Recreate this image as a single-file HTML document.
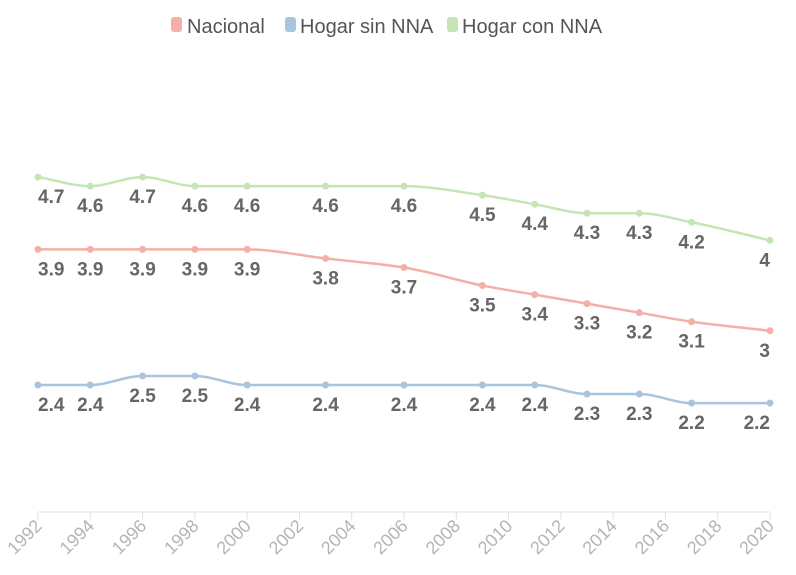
<!DOCTYPE html>
<html><head><meta charset="utf-8"><style>
body{margin:0;background:#fff;}
svg{display:block;font-family:"Liberation Sans",sans-serif;}
</style></head><body>
<svg id="chart" width="796" height="575">
<g id="legend">
 <g><rect x="171" y="17" width="11" height="15" rx="3" fill="#f4b0a8"/><text x="187" y="33" font-size="20" fill="#555">Nacional</text></g>
 <g><rect x="285" y="17" width="11" height="15" rx="3" fill="#a9c4de"/><text x="300" y="33" font-size="20" fill="#555">Hogar sin NNA</text></g>
 <g><rect x="447" y="17" width="11" height="15" rx="3" fill="#c5e5b5"/><text x="462" y="33" font-size="20" fill="#555">Hogar con NNA</text></g>
</g>
<line x1="38" y1="512" x2="770" y2="512" stroke="#e2e2e2"/>
<g id="ticks"></g>
<g id="series"></g>
</svg>
<script>
const years=[1992,1994,1996,1998,2000,2003,2006,2009,2011,2013,2015,2017,2020];
const nacional=[3.9,3.9,3.9,3.9,3.9,3.8,3.7,3.5,3.4,3.3,3.2,3.1,3];
const sinNNA=[2.4,2.4,2.5,2.5,2.4,2.4,2.4,2.4,2.4,2.3,2.3,2.2,2.2];
const conNNA=[4.7,4.6,4.7,4.6,4.6,4.6,4.6,4.5,4.4,4.3,4.3,4.2,4];
const tickYears=[1992,1994,1996,1998,2000,2002,2004,2006,2008,2010,2012,2014,2016,2018,2020];
const NS="http://www.w3.org/2000/svg";
function xS(y){return 38+(y-1992)*(770-38)/28;}
function yS(v){return 385-(v-2.4)*90.4;}
const tg=document.getElementById('ticks');
tickYears.forEach(t=>{
 const l=document.createElementNS(NS,'line');
 l.setAttribute('x1',xS(t));l.setAttribute('x2',xS(t));l.setAttribute('y1',512);l.setAttribute('y2',520);
 l.setAttribute('stroke','#e2e2e2');
 
 
 tg.appendChild(l);
 const tx=document.createElementNS(NS,'text');
 tx.setAttribute('transform','translate('+(xS(t)+5)+',527) rotate(-45)');
 tx.setAttribute('text-anchor','end');tx.setAttribute('font-size','18');tx.setAttribute('fill','#b5b5b5');
 tx.textContent=t;
 
 
 tg.appendChild(tx);
});
function monotonePath(xs,ys){
 const n=xs.length,d=[],m=new Array(n);
 for(let i=0;i<n-1;i++)d.push((ys[i+1]-ys[i])/(xs[i+1]-xs[i]));
 m[0]=d[0];m[n-1]=d[n-2];
 for(let i=1;i<n-1;i++){
  if(d[i-1]*d[i]<=0)m[i]=0;
  else{const h0=xs[i]-xs[i-1],h1=xs[i+1]-xs[i];m[i]=3*(h0+h1)/((2*h1+h0)/d[i-1]+(h1+2*h0)/d[i]);}
 }
 let p='M'+xs[0]+','+ys[0];
 for(let i=0;i<n-1;i++){
  const h=(xs[i+1]-xs[i])/3;
  p+=' C'+(xs[i]+h)+','+(ys[i]+m[i]*h)+' '+(xs[i+1]-h)+','+(ys[i+1]-m[i+1]*h)+' '+xs[i+1]+','+ys[i+1];
 }
 return p;
}
const sg=document.getElementById('series');
function draw(vals,color,name){
 const g=document.createElementNS(NS,'g');
 
 
 const xs=years.map(xS),ys=vals.map(yS);
 const p=document.createElementNS(NS,'path');
 p.setAttribute('d',monotonePath(xs,ys));p.setAttribute('fill','none');p.setAttribute('stroke',color);p.setAttribute('stroke-width','2.5');
 
 
 g.appendChild(p);
 vals.forEach((v,i)=>{
  const x=xs[i],y=ys[i];
  const c=document.createElementNS(NS,'circle');
  c.setAttribute('cx',x);c.setAttribute('cy',y);c.setAttribute('r',3.5);c.setAttribute('fill',color);
  
  
  g.appendChild(c);
  const t=document.createElementNS(NS,'text');
  let anchor='middle',tx=x;
  if(i===0){anchor='start';tx=x;}
  if(i===vals.length-1){anchor='end';tx=x;}
  t.setAttribute('x',tx);t.setAttribute('y',y+26);t.setAttribute('text-anchor',anchor);
  t.setAttribute('font-size','19');t.setAttribute('font-weight','bold');t.setAttribute('fill','#666');
  t.textContent=v;
  
  
  g.appendChild(t);
 });
 sg.appendChild(g);
}
draw(conNNA,'#c5e5b5','hogar-con-nna');
draw(nacional,'#f4b0a8','nacional');
draw(sinNNA,'#a9c4de','hogar-sin-nna');
</script>
</body></html>
